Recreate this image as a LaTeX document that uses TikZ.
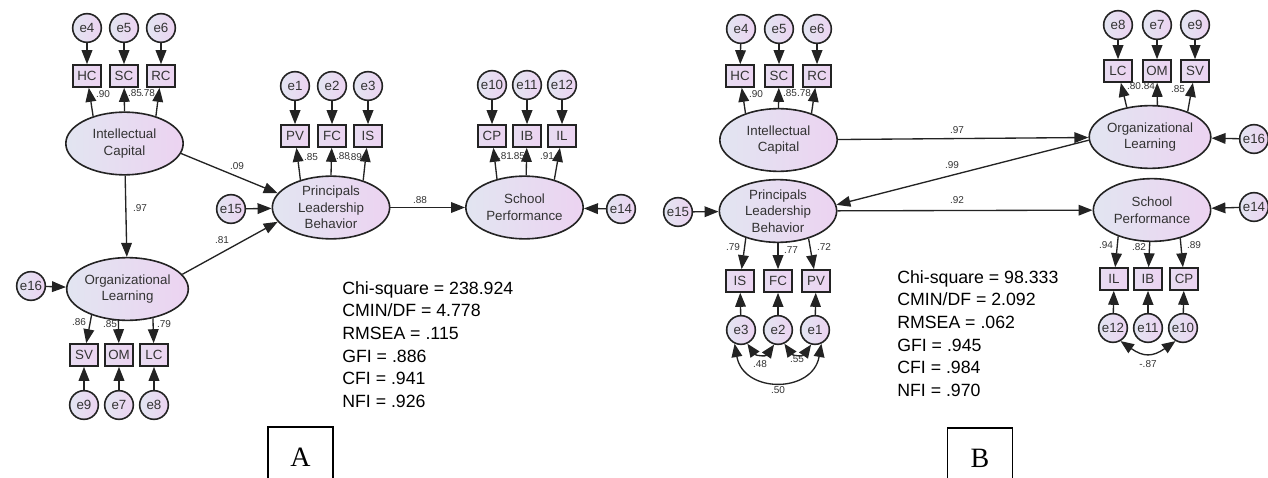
\documentclass[tikz,border=0pt]{standalone}
\usepackage{fontspec}
\setmainfont{Liberation Sans}
\newfontfamily\serifletter{Liberation Serif}
\usetikzlibrary{arrows.meta,shapes.geometric}
\definecolor{latL}{RGB}{226,229,241}
\definecolor{latR}{RGB}{236,211,241}
\definecolor{edgegray}{RGB}{35,35,35}
\begin{document}
\begin{tikzpicture}[x=0.75pt,y=-0.75pt,
    lat/.style={ellipse,draw=edgegray,line width=1.2pt,left color=latL,right color=latR,minimum width=88pt,minimum height=47pt,inner sep=0pt,align=center,font=\fontsize{10}{12.5}\selectfont,text=black!80},
    err/.style={circle,draw=edgegray,line width=1.2pt,left color=latL,right color=latR,minimum size=21.5pt,inner sep=0pt,font=\fontsize{10}{10}\selectfont,text=black!80},
    obs/.style={rectangle,draw=edgegray,line width=1.2pt,left color=latL!50!latR,right color=latR,minimum width=21pt,minimum height=16.5pt,inner sep=0pt,font=\fontsize{10}{10}\selectfont,text=black!80},
    arr/.style={-{Triangle[length=10.5pt,width=8pt]},draw=edgegray,line width=1pt},
    cov/.style={{Triangle[length=10pt,width=8pt]}-{Triangle[length=10pt,width=8pt]},draw=edgegray,line width=1pt},
    coef/.style={font=\fontsize{7.5}{8}\selectfont,inner sep=0pt,text=black!80},
    fitstat/.style={font=\fontsize{13.3}{17}\selectfont,align=left,inner sep=0pt,anchor=north west},
    panel/.style={draw=black,line width=0.8pt,minimum width=48.75pt,minimum height=45pt,font=\serifletter\fontsize{21}{24}\selectfont}]
    \useasboundingbox (0,0) rectangle (1268,478);

    \node[err] (e4a) at (87,28) {e4};
    \node[err] (e5a) at (124,28) {e5};
    \node[err] (e6a) at (161,28) {e6};
    \node[obs] (hca) at (87,76) {HC};
    \node[obs] (sca) at (124,76) {SC};
    \node[obs] (rca) at (161,76) {RC};
    \node[lat] (ica) at (124.5,143.5) {Intellectual\\Capital};
    \node[lat] (ola) at (127.5,289) {Organizational\\Learning};
    \node[err] (e16a) at (31,286) {e16};
    \node[obs] (sva) at (84,355) {SV};
    \node[obs] (oma) at (119,355) {OM};
    \node[obs] (lca) at (154,355) {LC};
    \node[err] (e9a) at (84,405) {e9};
    \node[err] (e7a) at (119,405) {e7};
    \node[err] (e8a) at (154,405) {e8};
    \node[err] (e1a) at (295,86) {e1};
    \node[err] (e2a) at (332,86) {e2};
    \node[err] (e3a) at (368,86) {e3};
    \node[obs] (pva) at (295,136) {PV};
    \node[obs] (fca) at (332,136) {FC};
    \node[obs] (isa) at (368,136) {IS};
    \node[lat] (plba) at (331,207.5) {Principals\\Leadership\\Behavior};
    \node[err] (e15a) at (231,209) {e15};
    \node[lat] (spa) at (524.5,207.5) {School\\Performance};
    \node[err] (e10a) at (492,85) {e10};
    \node[err] (e11a) at (527,85) {e11};
    \node[err] (e12a) at (562,85) {e12};
    \node[obs] (cpa) at (492,136) {CP};
    \node[obs] (iba) at (527,136) {IB};
    \node[obs] (ila) at (562,136) {IL};
    \node[err] (e14a) at (621,209) {e14};

    \draw[arr] (e4a) -- (hca);
    \draw[arr] (e5a) -- (sca);
    \draw[arr] (e6a) -- (rca);
    \draw[arr] (ica.139) -- (hca);
    \draw[arr] (ica.90) -- (sca);
    \draw[arr] (ica.41) -- (rca);
    \draw[arr] (ola.216) -- (sva);
    \draw[arr] (ola.254) -- (oma);
    \draw[arr] (ola.311) -- (lca);
    \draw[arr] (e9a) -- (sva);
    \draw[arr] (e7a) -- (oma);
    \draw[arr] (e8a) -- (lca);
    \draw[arr] (e1a) -- (pva);
    \draw[arr] (e2a) -- (fca);
    \draw[arr] (e3a) -- (isa);
    \draw[arr] (plba.138) -- (pva);
    \draw[arr] (plba.90) -- (fca);
    \draw[arr] (plba.40) -- (isa);
    \draw[arr] (e10a) -- (cpa);
    \draw[arr] (e11a) -- (iba);
    \draw[arr] (e12a) -- (ila);
    \draw[arr] (spa.134) -- (cpa);
    \draw[arr] (spa.87) -- (iba);
    \draw[arr] (spa.43) -- (ila);
    \draw[arr] (e16a) -- (ola);
    \draw[arr] (e15a) -- (plba);
    \draw[arr] (e14a) -- (spa);
    \draw[arr] (ica.-10) -- (plba.165);
    \draw[arr] (ica) -- (ola);
    \draw[arr] (ola.15) -- (plba.195);
    \draw[arr] (plba) -- (spa);

    \node[coef] (ka1) at (103,94) {.90};
    \node[coef] (ka2) at (135,93) {.85};
    \node[coef] (ka3) at (148,93) {.78};
    \node[coef] (ka4) at (79,322) {.86};
    \node[coef] (ka5) at (110,324) {.85};
    \node[coef] (ka6) at (164,324) {.79};
    \node[coef] (ka7) at (311,157) {.85};
    \node[coef] (ka8) at (343,156) {.88};
    \node[coef] (ka9) at (355,157) {.89};
    \node[coef] (ka10) at (505,156) {.81};
    \node[coef] (ka11) at (518,156) {.85};
    \node[coef] (ka12) at (547,156) {.91};
    \node[coef] (ka13) at (237,166) {.09};
    \node[coef] (ka14) at (140,208) {.97};
    \node[coef] (ka15) at (222,240) {.81};
    \node[coef] (ka16) at (420,200) {.88};

    \node[fitstat] (fita) at (342,281) {Chi-square = 238.924\\CMIN/DF = 4.778\\RMSEA = .115\\GFI = .886\\CFI = .941\\NFI = .926};
    \node[panel] (taga) at (300.5,457) {A};

    \node[err] (e4b) at (741,29) {e4};
    \node[err] (e5b) at (779,29) {e5};
    \node[err] (e6b) at (817,29) {e6};
    \node[obs] (hcb) at (740,76) {HC};
    \node[obs] (scb) at (779,76) {SC};
    \node[obs] (rcb) at (817,76) {RC};
    \node[lat] (icb) at (778.5,140) {Intellectual\\Capital};
    \node[lat] (plbb) at (778,211) {Principals\\Leadership\\Behavior};
    \node[err] (e15b) at (678,212) {e15};
    \node[obs] (isb) at (740,281) {IS};
    \node[obs] (fcb) at (778,281) {FC};
    \node[obs] (pvb) at (816,281) {PV};
    \node[err] (e3b) at (741,330) {e3};
    \node[err] (e2b) at (778,330) {e2};
    \node[err] (e1b) at (815,330) {e1};
    \node[lat] (olb) at (1150,137) {Organizational\\Learning};
    \node[err] (e8b) at (1118,25) {e8};
    \node[err] (e7b) at (1157,25) {e7};
    \node[err] (e9b) at (1195,25) {e9};
    \node[obs] (lcb) at (1118,71) {LC};
    \node[obs] (omb) at (1157,71) {OM};
    \node[obs] (svb) at (1195,71) {SV};
    \node[err] (e16b) at (1254,139) {e16};
    \node[lat] (spb) at (1152,210) {School\\Performance};
    \node[err] (e14b) at (1254,207) {e14};
    \node[obs] (ilb) at (1114,279) {IL};
    \node[obs] (ibb) at (1148,279) {IB};
    \node[obs] (cpb) at (1184,279) {CP};
    \node[err] (e12b) at (1113,328) {e12};
    \node[err] (e11b) at (1148,328) {e11};
    \node[err] (e10b) at (1183,328) {e10};

    \draw[arr] (e4b) -- (hcb);
    \draw[arr] (e5b) -- (scb);
    \draw[arr] (e6b) -- (rcb);
    \draw[arr] (icb.141) -- (hcb);
    \draw[arr] (icb.90) -- (scb);
    \draw[arr] (icb.39) -- (rcb);
    \draw[arr] (plbb.220) -- (isb);
    \draw[arr] (plbb.270) -- (fcb);
    \draw[arr] (plbb.318) -- (pvb);
    \draw[arr] (e3b) -- (isb);
    \draw[arr] (e2b) -- (fcb);
    \draw[arr] (e1b) -- (pvb);
    \draw[arr] (e8b) -- (lcb);
    \draw[arr] (e7b) -- (omb);
    \draw[arr] (e9b) -- (svb);
    \draw[arr] (olb.128) -- (lcb);
    \draw[arr] (olb.77) -- (omb);
    \draw[arr] (olb.34) -- (svb);
    \draw[arr] (spb.218) -- (ilb);
    \draw[arr] (spb.266) -- (ibb);
    \draw[arr] (spb.315) -- (cpb);
    \draw[arr] (e12b) -- (ilb);
    \draw[arr] (e11b) -- (ibb);
    \draw[arr] (e10b) -- (cpb);
    \draw[arr] (e15b) -- (plbb);
    \draw[arr] (e16b) -- (olb);
    \draw[arr] (e14b) -- (spb);
    \draw[arr] (icb) -- (olb);
    \draw[arr] (olb.183) -- (plbb.6);
    \draw[arr] (plbb) -- (spb);
    \draw[cov] (e3b.295) to[out=-55,in=-125,looseness=1.4] (e2b.255);
    \draw[cov] (e2b.295) to[out=-55,in=-125,looseness=1.4] (e1b.255);
    \draw[cov] (e3b.245) to[out=-80,in=-100,looseness=1.5] (e1b.295);
    \draw[cov] (e12b.300) to[out=-35,in=-145,looseness=1.3] (e10b.240);

    \node[coef] (kb1) at (756,94) {.90};
    \node[coef] (kb2) at (790,93) {.85};
    \node[coef] (kb3) at (804,93) {.78};
    \node[coef] (kb4) at (733,247) {.79};
    \node[coef] (kb5) at (791,250) {.77};
    \node[coef] (kb6) at (824,247) {.72};
    \node[coef] (kb7) at (1134,86) {.80};
    \node[coef] (kb8) at (1148,86) {.84};
    \node[coef] (kb9) at (1178,89) {.85};
    \node[coef] (kb10) at (1106,245) {.94};
    \node[coef] (kb11) at (1139,247) {.82};
    \node[coef] (kb12) at (1194,245) {.89};
    \node[coef] (kb13) at (957,130) {.97};
    \node[coef] (kb14) at (952,165) {.99};
    \node[coef] (kb15) at (957,200) {.92};
    \node[coef] (kb16) at (760,364) {.48};
    \node[coef] (kb17) at (797,359) {.55};
    \node[coef] (kb18) at (778,390) {.50};
    \node[coef] (kb19) at (1148,364) {-.87};

    \node[fitstat] (fitb) at (897,270) {Chi-square = 98.333\\CMIN/DF = 2.092\\RMSEA = .062\\GFI = .945\\CFI = .984\\NFI = .970};
    \node[panel] (tagb) at (980,458) {B};
\end{tikzpicture}
\end{document}
